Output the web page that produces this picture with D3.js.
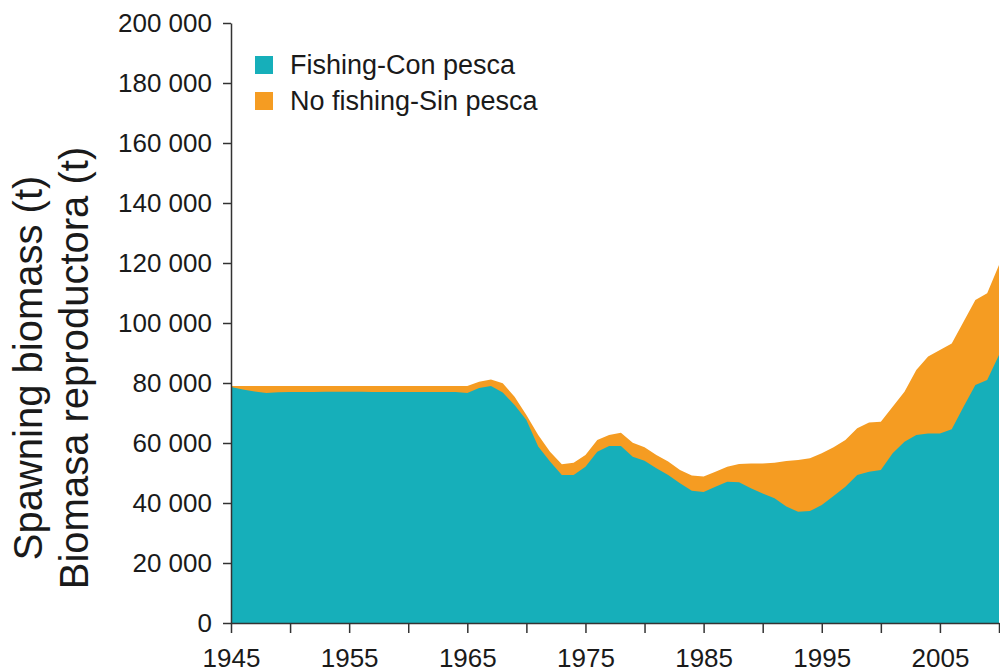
<!DOCTYPE html>
<html>
<head>
<meta charset="UTF-8">
<style>
  body { margin: 0; background: #fff; }
  text { font-family: "Liberation Sans", Arial, sans-serif; fill: #1a1a1a; }
</style>
</head>
<body>
<svg></svg>
<script src="https://d3js.org/d3.v7.min.js"></script>
<script>
// years 1945..2010
var years = d3.range(1945, 2011);
var fishing = [78.7, 77.8, 77.2, 76.7, 76.9, 77, 77, 77, 77.1, 77.1, 77.1, 77.1, 77, 77, 77, 77, 77, 77, 77, 77, 76.7,
  78.3, 79, 76.8, 72.7, 67.7, 58.8, 53.8, 49.3, 49.3, 52.1, 57.1, 59, 59, 55.4, 54.1,
  51.6, 49.3, 46.6, 44.1, 43.7, 45.4, 47.1, 46.9, 44.9, 43.2, 41.6, 38.8, 37.1, 37.3, 39.3,
  42.3, 45.4, 49.3, 50.4, 51, 56.6, 60.4, 62.7, 63.2, 63.2, 64.6, 72.1, 79.3, 81, 89.3];
var noFishing = [79, 79, 79, 79, 79, 79, 79, 79, 79, 79, 79, 79, 79, 79, 79, 79, 79, 79, 79, 79, 79,
  80.4, 81.2, 79.9, 75.4, 69.3, 62.7, 57.1, 52.9, 53.4, 56, 61, 62.7, 63.4, 60.1, 58.6,
  56, 53.8, 51, 49.2, 48.8, 50.4, 52.1, 53, 53.2, 53.2, 53.4, 54, 54.3, 54.9, 56.6,
  58.6, 61, 64.9, 66.8, 67.1, 72.1, 77.1, 84.3, 88.8, 91, 93.2, 100.4, 107.7, 109.9, 119.3];
var seriesNames = ["Fishing-Con pesca", "No fishing-Sin pesca"];
var seriesColors = ["#16afba", "#f59c22"];
var yTicks = d3.range(0, 200001, 20000);
var xMinorTicks = d3.range(1945, 2011, 5);

var width = 1000, height = 672;
var svg = d3.select("svg").attr("width", width).attr("height", height);

var x = d3.scaleLinear().domain([1945, 2010]).range([231, 999]);
var y = d3.scaleLinear().domain([0, 200000]).range([623, 23]);

var data = years.map(function(yr, i) { return { yr: yr, f: fishing[i] * 1000, n: noFishing[i] * 1000 }; });

svg.append("path").datum(data)
  .attr("fill", seriesColors[1])
  .attr("d", d3.area().x(function(d) { return x(d.yr); }).y0(y(0)).y1(function(d) { return y(d.n); }));
svg.append("path").datum(data)
  .attr("fill", seriesColors[0])
  .attr("d", d3.area().x(function(d) { return x(d.yr); }).y0(y(0)).y1(function(d) { return y(d.f); }));

var yAxis = svg.append("g").attr("transform", "translate(231,0)")
  .call(d3.axisLeft(y).tickValues(yTicks).tickSize(8).tickSizeOuter(0).tickFormat(function(d) { return d3.format(",")(d).replace(/,/g, " "); }));
yAxis.selectAll("text").style("font-size", "26px").attr("dx", "-8");

var xAxis = svg.append("g").attr("transform", "translate(0,623)")
  .call(d3.axisBottom(x).tickValues(xMinorTicks).tickSize(10).tickSizeOuter(0).tickFormat(function(d) { return d % 10 === 5 ? d : ""; }));
xAxis.selectAll("text").style("font-size", "26px").attr("dy", "1.2em");

svg.selectAll(".domain, .tick line").attr("stroke", "#333").attr("stroke-width", 1.5);

var lab = svg.append("text").attr("transform", "translate(52,368) rotate(-90)")
  .attr("text-anchor", "middle").style("font-size", "40px");
lab.append("tspan").attr("x", 0).attr("dy", "-0.25em").text("Spawning biomass (t)");
lab.append("tspan").attr("x", 0).attr("dy", "1.15em").text("Biomasa reproductora (t)");

var leg = svg.selectAll("g.legend").data(seriesNames).enter().append("g")
  .attr("transform", function(d, i) { return "translate(255," + (65 + i * 36) + ")"; });
leg.append("rect").attr("x", 0).attr("y", -9).attr("width", 18).attr("height", 18)
  .attr("fill", function(d, i) { return seriesColors[i]; });
leg.append("text").attr("x", 35).attr("dy", "0.35em").style("font-size", "27px").text(function(d) { return d; });
</script>
</body>
</html>
